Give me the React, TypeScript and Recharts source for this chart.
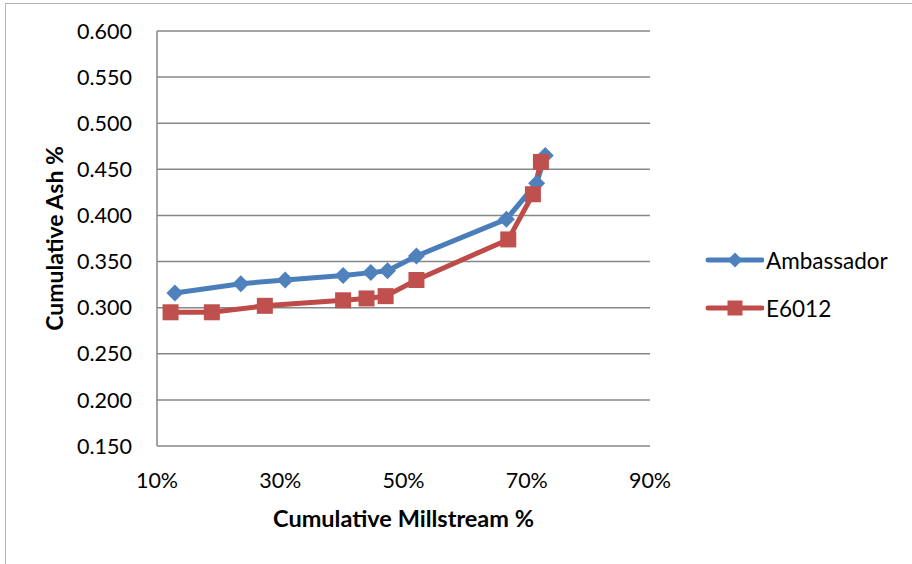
import { LineChart, Line, XAxis, YAxis, CartesianGrid, Legend } from 'recharts'

// Cumulative ash vs cumulative millstream, two flour varieties
const ambassadorMill = [12.9, 23.6, 30.8, 40.2, 44.7, 47.4, 52.1, 66.7, 71.6, 73.0]
const ambassadorAsh = [0.316, 0.326, 0.330, 0.335, 0.338, 0.340, 0.356, 0.396, 0.435, 0.465]

const e6012Mill = [12.2, 18.9, 27.5, 40.2, 44.0, 47.1, 52.1, 67.0, 71.0, 72.3]
const e6012Ash = [0.295, 0.295, 0.302, 0.308, 0.310, 0.3125, 0.330, 0.374, 0.423, 0.458]

const millTicks = [10, 30, 50, 70, 90]
const ashTicks = [0.15, 0.2, 0.25, 0.3, 0.35, 0.4, 0.45, 0.5, 0.55, 0.6]

const ambassadorData = ambassadorMill.map((x, i) => ({ x, y: ambassadorAsh[i] }))
const e6012Data = e6012Mill.map((x, i) => ({ x, y: e6012Ash[i] }))

const BLUE = '#4A7EBB'
const BLUE_FILL = '#4F81BD'
const RED = '#BE4B48'
const RED_FILL = '#C0504D'
const GRID = '#878787'
const FONT = 'Lato, "Open Sans", sans-serif'

const Diamond = ({ cx, cy, r, fill }: { cx: number; cy: number; r: number; fill: string }) => (
  <path d={`M${cx},${cy - r}L${cx + r},${cy}L${cx},${cy + r}L${cx - r},${cy}Z`} fill={fill} />
)

const Square = ({ cx, cy, r, fill }: { cx: number; cy: number; r: number; fill: string }) => (
  <rect x={cx - r} y={cy - r} width={r * 2} height={r * 2} fill={fill} />
)

// eslint-disable-next-line @typescript-eslint/no-explicit-any
const renderLegend = (props: any) => {
  const { payload } = props
  return (
    <div style={{ fontFamily: FONT, fontSize: 22.5, color: '#000' }}>
      {payload.map((entry: any) => {
        const isDiamond = entry.value === 'Ambassador'
        const stroke = isDiamond ? BLUE : RED
        const fill = isDiamond ? BLUE_FILL : RED_FILL
        return (
          <div key={entry.value} style={{ display: 'flex', alignItems: 'center', height: 48 }}>
            <svg width={60} height={24}>
              <line x1={4} y1={12} x2={58} y2={12} stroke={stroke} strokeWidth={5} strokeLinecap="round" />
              {isDiamond ? (
                <Diamond cx={31} cy={12} r={7.5} fill={fill} />
              ) : (
                <Square cx={31} cy={12} r={7.5} fill={fill} />
              )}
            </svg>
            <span style={{ marginLeft: 2 }}>{entry.value}</span>
          </div>
        )
      })}
    </div>
  )
}

export default function App() {
  return (
    <div style={{ position: 'absolute', left: 0, top: 0, width: 912, height: 564, overflow: 'hidden', background: '#fff' }}>
      <div
        style={{
          position: 'absolute',
          left: 5,
          top: 3,
          width: 1000,
          height: 1000,
          border: '1.5px solid #b4b4b4'
        }}
      />
      <LineChart
        width={912}
        height={564}
        margin={{ top: 31, right: 262, left: 0, bottom: 0 }}
        style={{ position: 'absolute', left: 0, top: 0 }}
      >
        <CartesianGrid vertical={false} stroke={GRID} strokeWidth={1.5} />
        <XAxis
          type="number"
          dataKey="x"
          domain={[10, 90]}
          ticks={millTicks}
          tickFormatter={(v: number) => `${v}%`}
          height={118}
          axisLine={false}
          tickLine={false}
          tickSize={0}
          tickMargin={27}
          tick={{ fill: '#000', fontSize: 21.5, fontFamily: FONT }}
          label={{
            value: 'Cumulative Millstream %',
            position: 'insideTop',
            offset: 64,
            fill: '#000',
            fontSize: 23.5,
            fontWeight: 700,
            fontFamily: FONT
          }}
        />
        <YAxis
          type="number"
          dataKey="y"
          domain={[0.15, 0.6]}
          ticks={ashTicks}
          tickFormatter={(v: number) => v.toFixed(3)}
          width={157}
          stroke={GRID}
          strokeWidth={1.5}
          tickLine={false}
          tickSize={0}
          tickMargin={25}
          tick={{ fill: '#000', fontSize: 21.5, fontFamily: FONT }}
          label={{
            value: 'Cumulative Ash %',
            position: 'insideLeft',
            offset: 55,
            angle: -90,
            fill: '#000',
            fontSize: 23,
            fontWeight: 700,
            fontFamily: FONT,
            style: { textAnchor: 'middle' }
          }}
        />
        <Legend
          layout="vertical"
          align="center"
          verticalAlign="middle"
          content={renderLegend}
          wrapperStyle={{ left: 704, top: 236, width: 200 }}
        />
        <Line
          data={ambassadorData}
          dataKey="y"
          name="Ambassador"
          stroke={BLUE}
          strokeWidth={5}
          dot={(p: any) => <Diamond key={`a${p.index}`} cx={p.cx} cy={p.cy} r={8.5} fill={BLUE_FILL} />}
          activeDot={false}
          isAnimationActive={false}
        />
        <Line
          data={e6012Data}
          dataKey="y"
          name="E6012"
          stroke={RED}
          strokeWidth={5}
          dot={(p: any) => <Square key={`e${p.index}`} cx={p.cx} cy={p.cy} r={8} fill={RED_FILL} />}
          activeDot={false}
          isAnimationActive={false}
        />
      </LineChart>
    </div>
  )
}
